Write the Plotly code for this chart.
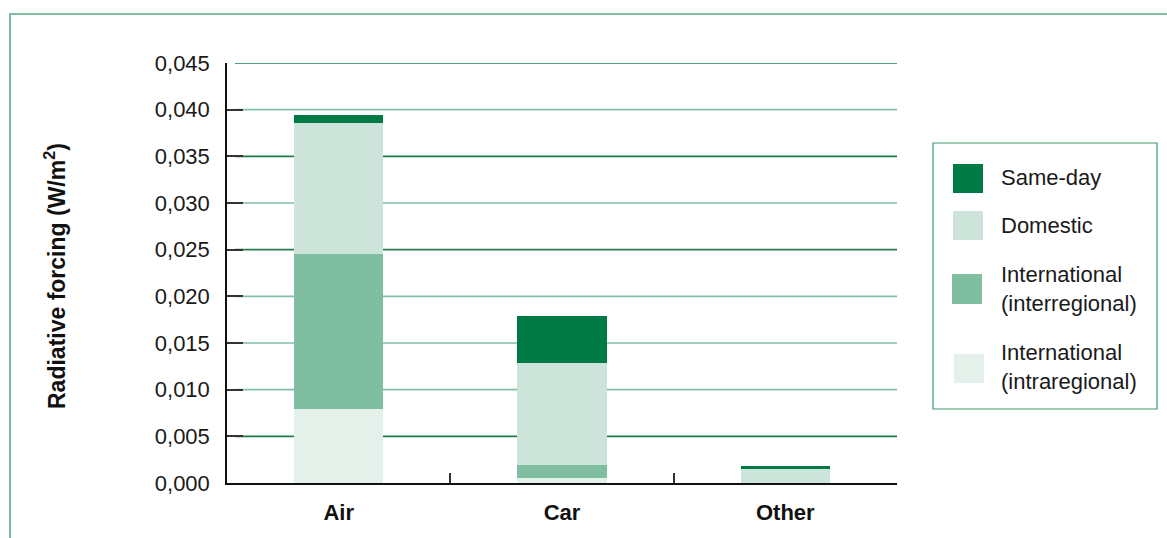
import plotly.graph_objects as go

categories = ["Air", "Car", "Other"]
series_names = ["International<br>(intraregional)", "International<br>(interregional)", "Domestic", "Same-day"]
intraregional = [0.0079, 0.0005, 0.0]
interregional = [0.0166, 0.0014, 0.0]
domestic = [0.0141, 0.0110, 0.0015]
same_day = [0.0008, 0.0050, 0.0003]
series_values = [intraregional, interregional, domestic, same_day]
series_colors = ["#e3f1ea", "#80bea2", "#cde4da", "#007a45"]

y_ticks = [0.0, 0.005, 0.010, 0.015, 0.020, 0.025, 0.030, 0.035, 0.040, 0.045]
grid_colors = [None, "#1f7a4d", "#80bfa2", "#80bfa2", "#80bfa2", "#2a7d52", "#80bfa2", "#1f7a4d", "#80bfa2", "#1f7a4d"]

FONT = "Liberation Sans, Arial, Helvetica, sans-serif"

fig = go.Figure()
for name, vals, col in zip(series_names, series_values, series_colors):
    fig.add_trace(go.Bar(x=categories, y=vals, name=name, marker=dict(color=col, line=dict(width=0)),
                         width=0.4, showlegend=False, cliponaxis=False))

shapes = []
for v, c in zip(y_ticks, grid_colors):
    if c is None:
        continue
    shapes.append(dict(type="line", xref="paper", yref="y", x0=0.012, x1=1.0, y0=v, y1=v,
                       line=dict(color=c, width=1.6), layer="below"))

L, R, T, B = 227, 897, 63, 483
def px(x):
    return (x - L) / (R - L)
def py(y):
    return (B - y) / (B - T)

shapes.append(dict(type="rect", xref="paper", yref="paper", x0=px(10), x1=px(1190), y0=py(560), y1=py(14),
                   line=dict(color="#5aa882", width=1.5), fillcolor="rgba(0,0,0,0)", layer="below"))
shapes.append(dict(type="rect", xref="paper", yref="paper", x0=px(933), x1=px(1157), y0=py(409), y1=py(143),
                   line=dict(color="#3f9a6c", width=1.2), fillcolor="rgba(0,0,0,0)"))

legend_order = [3, 2, 1, 0]
sw_y = [(164, 193), (211, 240), (274, 304), (354, 383)]
sw_x = [(953, 983), (953, 983), (952, 982), (954, 984)]
text_y = [177, 226, 289, 367]
annotations = []
for k, idx in enumerate(legend_order):
    (x0, x1), (y0, y1) = sw_x[k], sw_y[k]
    shapes.append(dict(type="rect", xref="paper", yref="paper", x0=px(x0), x1=px(x1), y0=py(y1), y1=py(y0),
                       line=dict(width=0), fillcolor=series_colors[idx]))
    annotations.append(dict(xref="paper", yref="paper", x=px(999), y=py(text_y[k]), xanchor="left", yanchor="middle",
                            text=series_names[idx], showarrow=False, align="left",
                            font=dict(family=FONT, size=22, color="#1a1a1a")))

annotations.append(dict(xref="paper", yref="paper", x=px(55), y=py(276), text="Radiative forcing (W/m<sup>2</sup>)",
                        textangle=-90, showarrow=False, xanchor="center", yanchor="middle",
                        font=dict(family=FONT, size=23, color="#111111", weight="bold")))

fig.update_layout(
    barmode="stack",
    width=1167, height=538,
    margin=dict(l=L, r=1167 - R, t=T, b=538 - B),
    paper_bgcolor="white", plot_bgcolor="white",
    separators=",.",
    shapes=shapes, annotations=annotations,
    font=dict(family=FONT, color="#1a1a1a"),
)
fig.update_xaxes(type="category", showgrid=False, showline=True, linecolor="#111111", linewidth=1.8,
                 ticks="inside", tickson="boundaries", ticklen=10, tickcolor="#333333", tickwidth=1.5,
                 tickfont=dict(family=FONT, size=22, color="#111111", weight="bold"), ticklabelstandoff=9,
                 range=[-0.5, 2.5])
fig.update_yaxes(range=[0, 0.045], tickvals=y_ticks, tickformat=".3f", showgrid=False, zeroline=False,
                 showline=True, linecolor="#111111", linewidth=1.5, ticks="inside", ticklen=16,
                 tickcolor="#333333", tickwidth=1.5, tickfont=dict(family=FONT, size=22, color="#1a1a1a"),
                 ticklabelstandoff=11)

fig.write_html("out.html", config={"displayModeBar": False},
               post_script="document.body.style.margin='0';")
